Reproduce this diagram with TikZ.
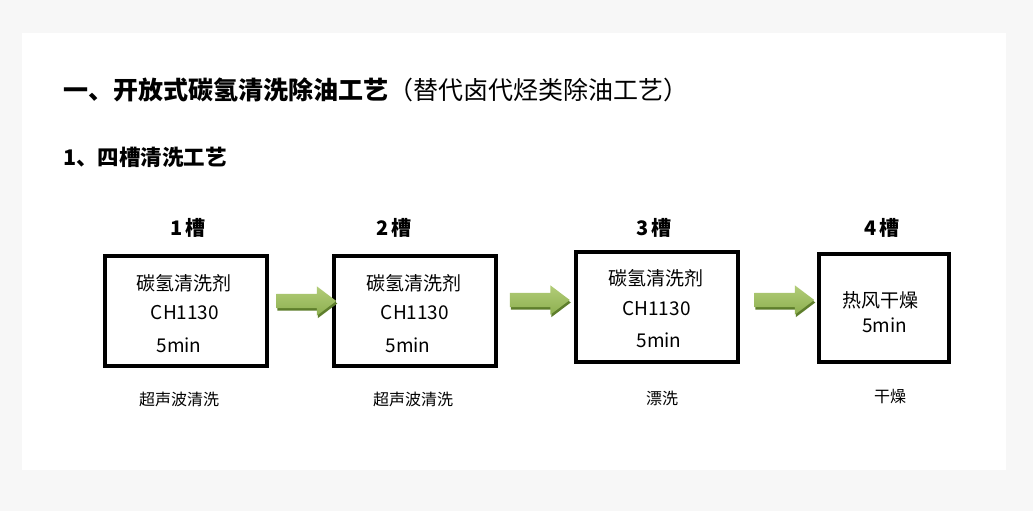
\documentclass[tikz,border=0pt]{standalone}
\usepackage{fontspec}
\setmainfont{Noto Sans CJK SC}
\usetikzlibrary{positioning,shapes.arrows,shadows}

\definecolor{pagegray}{HTML}{F7F7F7}
\definecolor{arrowlight}{HTML}{B2CD78}
\definecolor{arrowmid}{HTML}{8DAF50}
\definecolor{arrowdark}{HTML}{5E7E2C}

\tikzset{
  tank/.style={draw, line width=4pt, minimum width=162pt, minimum height=110pt, inner sep=0pt},
  tankname/.style={inner sep=0pt, font=\fontsize{20}{24}\selectfont\bfseries},
  tanktext/.style={inner sep=0pt, font=\fontsize{19}{23}\selectfont},
  stepname/.style={inner sep=0pt, font=\fontsize{16}{19}\selectfont},
  flowarrow/.style={single arrow, minimum height=60pt, inner xsep=0pt, inner ysep=7pt,
    single arrow head extend=7.5pt, single arrow tip angle=74,
    top color=arrowlight, bottom color=arrowmid, draw=none,
    drop shadow={shadow xshift=1pt, shadow yshift=-2.5pt, fill=arrowdark, opacity=1}}
}

\begin{document}
\begin{tikzpicture}[x=1pt, y=-1pt]
              % Fond de la page
              \fill[pagegray] (0,0) rectangle (1033,511);
              \fill[white] (22,33) rectangle (1006,470);
              \useasboundingbox (0,0) rectangle (1033,511);

              % Titres
              \node[anchor=west, inner sep=0pt, font=\fontsize{25}{30}\selectfont] (title) at (63,90) {\textbf{一、开放式碳氢清洗除油工艺}（替代卤代烃类除油工艺）};
              \node[anchor=west, inner sep=0pt, font=\fontsize{21.5}{26}\selectfont\bfseries] (subtitle) at (63,157) {1、四槽清洗工艺};

              % Les quatre cuves
              \node[tank] (t1) at (185.5,311) {};
              \node[tank] (t2) at (415,311) {};
              \node[tank] (t3) at (657,307) {};
              \node[tank, minimum width=130pt, minimum height=108pt] (t4) at (884,308) {};

              \node[tankname] (n1) at (188,227.5) {1\hspace{3pt}槽};
              \node[tankname] (n2) at (394,227.5) {2\hspace{3pt}槽};
              \node[tankname] (n3) at (654,227.5) {3\hspace{3pt}槽};
              \node[tankname] (n4) at (882,227.5) {4\hspace{3pt}槽};

              % Contenu des cuves
              \node[tanktext] (agent1) at (184,283) {碳氢清洗剂};
              \node[tanktext] (code1) at (185,313) {CH1130};
              \node[tanktext] (time1) at (179,345) {5min};
              \node[tanktext] (agent2) at (414,283) {碳氢清洗剂};
              \node[tanktext] (code2) at (415,313) {CH1130};
              \node[tanktext] (time2) at (408,345) {5min};
              \node[tanktext] (agent3) at (655.5,278) {碳氢清洗剂};
              \node[tanktext] (code3) at (656.5,309) {CH1130};
              \node[tanktext] (time3) at (659,340) {5min};
              \node[tanktext] (agent4) at (880,300) {热风干燥};
              \node[tanktext] (time4) at (884.5,325) {5min};

              % Etapes sous les cuves
              \node[stepname] (s1) at (179,399) {超声波清洗};
              \node[stepname] (s2) at (413,399) {超声波清洗};
              \node[stepname] (s3) at (662,398) {漂洗};
              \node[stepname] (s4) at (890,397) {干燥};

              % Flèches entre les cuves
              \node[flowarrow] (a12) at (301.5,301) {};
              \node[flowarrow] (a23) at (535,300) {};
              \node[flowarrow] (a34) at (779.5,300) {};
            \end{tikzpicture}
\end{document}
